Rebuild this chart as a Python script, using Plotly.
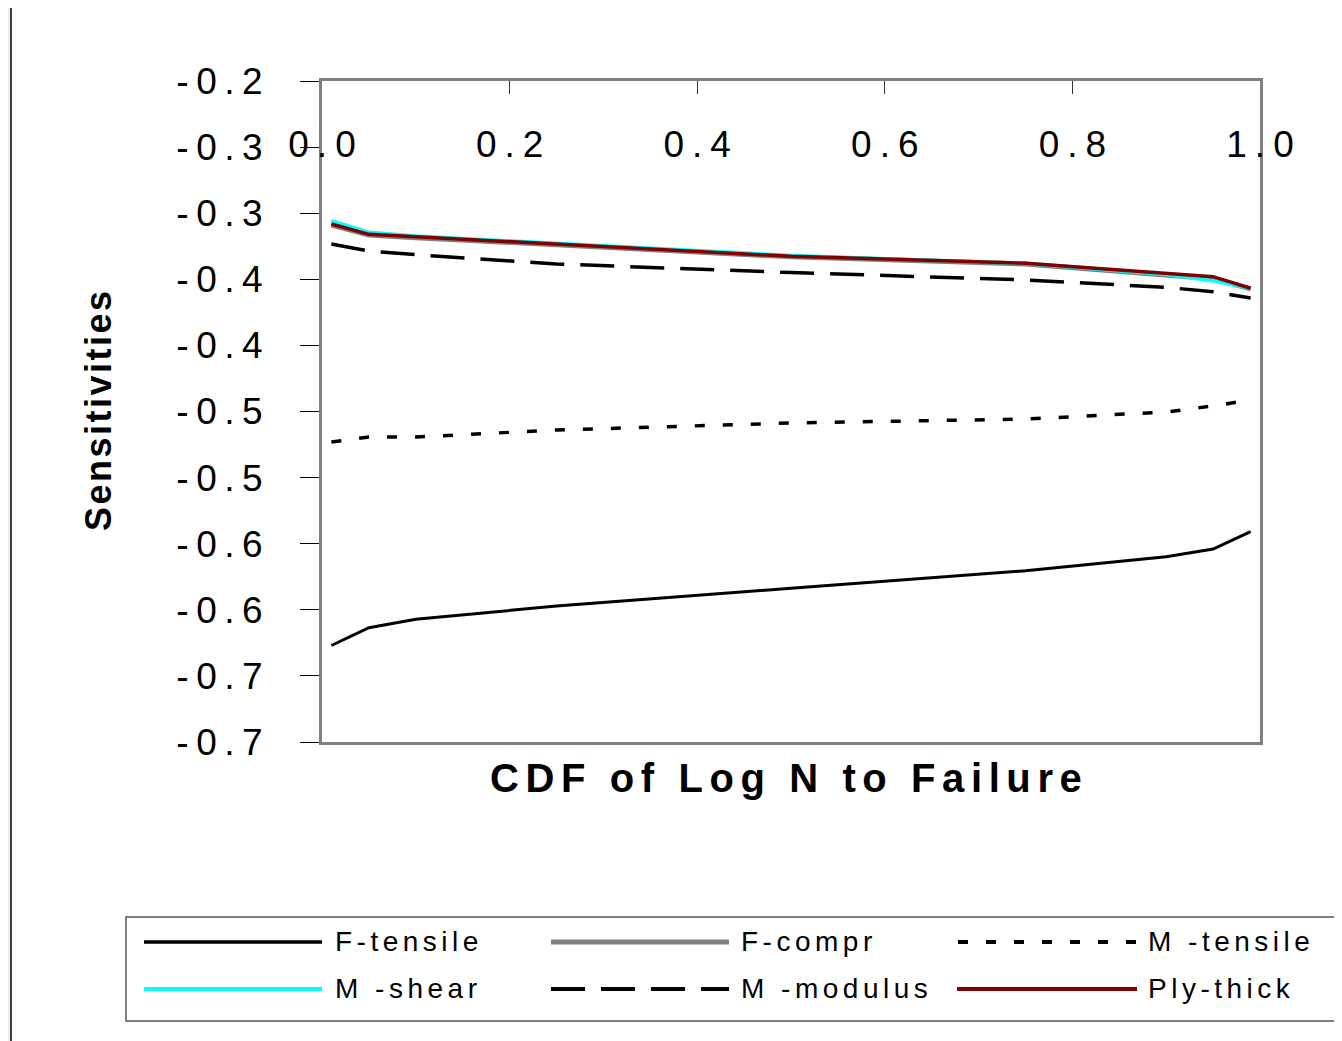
import plotly.graph_objects as go

# ---------------- data ----------------
CDF = [0.01, 0.05, 0.10, 0.25, 0.50, 0.75, 0.90, 0.95, 0.99]

F_TENSILE = [-0.627, -0.6135, -0.6072, -0.5971, -0.5837, -0.5704, -0.5598, -0.554, -0.5409]
F_COMPR   = [-0.309, -0.3165, -0.3185, -0.3240, -0.3330, -0.3385, -0.3462, -0.3495, -0.3572]
M_TENSILE = [-0.4731, -0.4693, -0.4693, -0.4640, -0.4587, -0.4557, -0.4504, -0.4458, -0.4413]
M_SHEAR   = [-0.3057, -0.3144, -0.3173, -0.3229, -0.3320, -0.3380, -0.3464, -0.3511, -0.3570]
M_MODULUS = [-0.3233, -0.3286, -0.3314, -0.3384, -0.3449, -0.3505, -0.3561, -0.3594, -0.3641]
PLY_THICK = [-0.3082, -0.3160, -0.3178, -0.3235, -0.3326, -0.3379, -0.3457, -0.3480, -0.3568]

SERIES_NAMES = ["F-tensile", "F-compr", "M-tensile", "M-shear", "M-modulus", "Ply-thick"]
LEGEND_TEXT = ["F-tensile", "F-compr", "M -tensile", "M -shear", "M -modulus", "Ply-thick"]

X_TICK_VALUES = [0.0, 0.2, 0.4, 0.6, 0.8, 1.0]
X_TICK_LABELS = ["0.0", "0.2", "0.4", "0.6", "0.8", "1.0"]
Y_TICK_VALUES = [-0.20, -0.25, -0.30, -0.35, -0.40, -0.45, -0.50, -0.55, -0.60, -0.65, -0.70]
Y_TICK_LABELS = ["-0.2", "-0.3", "-0.3", "-0.4", "-0.4", "-0.5", "-0.5", "-0.6", "-0.6", "-0.7", "-0.7"]

X_TITLE = "CDF of Log N to Failure"
Y_TITLE = "Sensitivities"

# ---------------- styles ----------------
FONT = "Arial, 'Liberation Sans', sans-serif"
STYLES = {
    "F-tensile": dict(color="#000000", width=3, dash="solid"),
    "F-compr":   dict(color="#808080", width=5, dash="solid"),
    "M-tensile": dict(color="#000000", width=3.5, dash="10px,18px"),
    "M-shear":   dict(color="#00FFFF", width=3.5, dash="solid"),
    "M-modulus": dict(color="#000000", width=3.5, dash="34px,16px"),
    "Ply-thick": dict(color="#800000", width=3.5, dash="solid"),
}
VALUES = {
    "F-tensile": F_TENSILE, "F-compr": F_COMPR, "M-tensile": M_TENSILE,
    "M-shear": M_SHEAR, "M-modulus": M_MODULUS, "Ply-thick": PLY_THICK,
}


def spaced(s, px):
    """letter-spaced text (spacing between characters, none after the last)"""
    if len(s) < 2:
        return s
    return f'<span style="letter-spacing:{px}px">{s[:-1]}</span>{s[-1]}'


# page offset of the plot div (body margin) and plot-area geometry in page pixels
OFF = 8
W, H = 1342, 1041
PL, PR, PT, PB = 322, 1260, 81, 742          # plot area in page pixels
L, R, T, B = PL - OFF, PR - OFF, PT - OFF, PB - OFF  # in figure pixels


def px(X):
    return (X - PL) / (PR - PL)


def py(Y):
    return (PB - Y) / (PB - PT)


fig = go.Figure()
for name in SERIES_NAMES:
    st = STYLES[name]
    fig.add_trace(go.Scatter(
        x=CDF, y=VALUES[name], mode="lines", name=name,
        line=dict(color=st["color"], width=st["width"], dash=st["dash"]),
        showlegend=False,
    ))

shapes = []
annotations = []

# outer white panel on light-grey page
shapes.append(dict(type="rect", xref="paper", yref="paper",
                   x0=px(11), x1=px(1380), y0=py(1080), y1=py(5),
                   fillcolor="white", line=dict(color="black", width=1.5), layer="below"))

# legend box
shapes.append(dict(type="rect", xref="paper", yref="paper",
                   x0=px(126), x1=px(1380), y0=py(1021), y1=py(917),
                   fillcolor="white", line=dict(color="#555555", width=1.5), layer="above"))

legend_pos = [  # (x0, x1, text_x, y) in page pixels
    (144, 322, 333, 941), (551, 729, 739, 941), (958, 1136, 1146, 941),
    (144, 322, 333, 988), (551, 729, 739, 988), (957, 1137, 1146, 988),
]
leg_widths = {"F-tensile": 3.5, "F-compr": 5, "M-tensile": 4, "M-shear": 4, "M-modulus": 4, "Ply-thick": 4}
for name, txt, (x0, x1, tx, yy) in zip(SERIES_NAMES, LEGEND_TEXT, legend_pos):
    st = STYLES[name]
    shapes.append(dict(type="line", xref="paper", yref="paper",
                       x0=px(x0), x1=px(x1), y0=py(yy + 1), y1=py(yy + 1),
                       line=dict(color=st["color"], width=leg_widths[name], dash=st["dash"]),
                       layer="above"))
    annotations.append(dict(xref="paper", yref="paper", x=px(tx), y=py(yy),
                            xanchor="left", yanchor="middle", showarrow=False,
                            text=spaced(txt, 4.5),
                            font=dict(family=FONT, size=28, color="black")))

# axis titles
annotations.append(dict(xref="paper", yref="paper", x=px(786), y=py(778),
                        xanchor="center", yanchor="middle", showarrow=False,
                        text="<b>" + spaced(X_TITLE, 6.6) + "</b>",
                        font=dict(family=FONT, size=40, color="black")))
annotations.append(dict(xref="paper", yref="paper", x=px(98), y=py(411),
                        xanchor="center", yanchor="middle", showarrow=False,
                        textangle=-90,
                        text="<b>" + spaced(Y_TITLE, 2.5) + "</b>",
                        font=dict(family=FONT, size=36, color="black")))

fig.update_layout(
    width=W, height=H,
    margin=dict(l=L, r=W - R, t=T, b=H - B, autoexpand=False),
    paper_bgcolor="#ececec",
    plot_bgcolor="white",
    shapes=shapes,
    annotations=annotations,
    showlegend=False,
    font=dict(family=FONT, color="black"),
)

fig.update_xaxes(
    range=[0, 1], side="top",
    tickvals=X_TICK_VALUES, ticktext=[spaced(t, 8) for t in X_TICK_LABELS],
    ticks="inside", ticklen=13, tickwidth=1, tickcolor="#333333",
    ticklabelposition="inside", ticklabeloverflow="allow", ticklabelstandoff=42,
    tickfont=dict(family=FONT, size=37, color="black"),
    showline=True, linecolor="#808080", linewidth=3, mirror=True,
    showgrid=False, zeroline=False, automargin=False,
)
fig.update_yaxes(
    range=[-0.70, -0.20],
    tickvals=Y_TICK_VALUES, ticktext=[spaced(t, 7.5) for t in Y_TICK_LABELS],
    ticks="outside", ticklen=19, tickwidth=1, tickcolor="#000000",
    ticklabelstandoff=30,
    tickfont=dict(family=FONT, size=37, color="black"),
    showline=True, linecolor="#808080", linewidth=3, mirror=True,
    showgrid=False, zeroline=False, automargin=False,
)

fig.write_html("out.html")
